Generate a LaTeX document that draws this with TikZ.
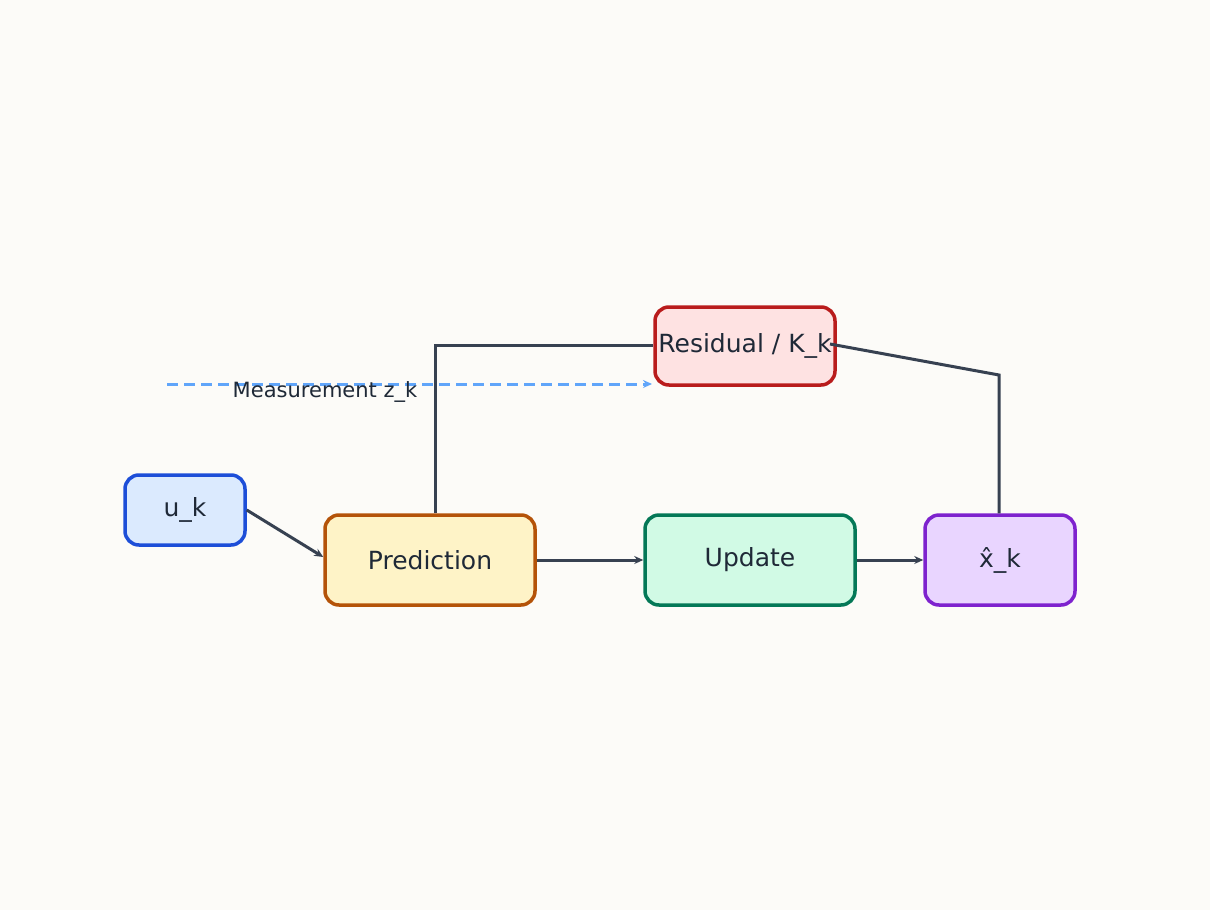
\documentclass[tikz,border=0pt]{standalone}
\usepackage{fontspec}
\setmainfont{DejaVu Sans}
\usetikzlibrary{arrows.meta}
\definecolor{bg}{HTML}{FCFBF8}
\definecolor{ink}{HTML}{1F2937}
\definecolor{edge}{HTML}{374151}
\tikzset{
 box/.style={draw, line width=3.5pt, rounded corners=14pt, align=center, text=ink, font=\fontsize{25}{30}\selectfont, inner sep=0pt},
 conn/.style={draw=edge, line width=3pt},
 arr/.style={conn, -{Stealth[length=9pt,width=8pt]}},
}
\begin{document}
\begin{tikzpicture}[x=1pt,y=-1pt]
\fill[bg] (0,0) rectangle (1210,910);
\useasboundingbox (0,0) rectangle (1210,910);
\node[box, draw=blue!70!black, fill=blue!12, draw={rgb,255:red,29;green,78;blue,216}, fill={rgb,255:red,219;green,234;blue,254}, minimum width=120pt, minimum height=70pt] (u) at (185,510) {u\_k};
\node[box, draw={rgb,255:red,180;green,83;blue,9}, fill={rgb,255:red,254;green,243;blue,199}, minimum width=210pt, minimum height=90pt] (p) at (430,560) {Prediction};
\node[box, draw={rgb,255:red,4;green,120;blue,87}, fill={rgb,255:red,209;green,250;blue,229}, minimum width=210pt, minimum height=90pt] (up) at (750,560) {Update};
\node[box, draw={rgb,255:red,126;green,34;blue,206}, fill={rgb,255:red,233;green,213;blue,255}, minimum width=150pt, minimum height=90pt] (x) at (1000,560) {x̂\_k};
\node[box, draw={rgb,255:red,185;green,28;blue,28}, fill={rgb,255:red,254;green,226;blue,226}, minimum width=180pt, minimum height=78pt] (r) at (745,346) {};
\coordinate (ms) at (167,384);
\draw[arr] (u.east) -- (p.west |- 0,557);
\draw[arr] (p.east) -- (up.west);
\draw[arr] (up.east) -- (x.west);
\draw[conn] (p.north -| 435,0) -- (435,345) -- (r.west |- 0,345);
\draw[conn] (x.north -| 999,0) -- (999,375) -- (830,344);
\draw[line width=3pt, draw={rgb,255:red,96;green,165;blue,250}, dash pattern=on 11pt off 6pt, -{Stealth[length=9pt,width=8pt]}] (ms) -- (652,384);
\node[text=ink, font=\fontsize{25}{30}\selectfont] (rl) at (745,346) {Residual / K\_k};
\node[text=ink, font=\fontsize{21}{26}\selectfont] (ml) at (325,392) {Measurement z\_k};
\end{tikzpicture}
\end{document}
